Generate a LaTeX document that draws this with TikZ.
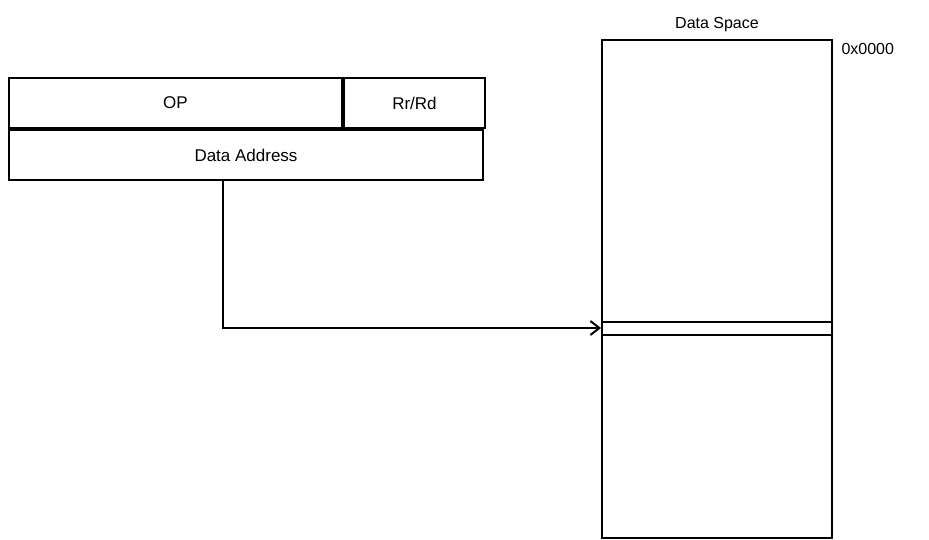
\documentclass[tikz,border=0pt]{standalone}
\usepackage{fontspec}
\setmainfont{Liberation Sans}
\usetikzlibrary{positioning}
\tikzset{
field/.style={draw, line width=2pt, minimum height=50pt, inner sep=0pt, font=\fontsize{17}{20}\selectfont},
memory/.style={draw, line width=2pt, minimum width=230pt, minimum height=498pt, inner sep=0pt},
label/.style={font=\fontsize{16}{19}\selectfont},
pointer/.style={line width=2pt, -{Straight Barb[length=9pt,width=14pt]}},
}
\usetikzlibrary{arrows.meta}
\begin{document}
\begin{tikzpicture}[x=1pt, y=-1pt]
	\useasboundingbox (0,0) rectangle (929,540);
	% Instruction
	\node[field, minimum width=333pt, anchor=north west] (op) at (8,77) {OP};
	\node[field, minimum width=141pt, right=0pt of op] (reg) {Rr/Rd};
	\node[field, minimum width=474pt, anchor=north west] (addr) at (op.south west) {Data Address};

	% Data space
	\node[memory, anchor=north west] (data) at (601,39) {};
	\node[label, above=4pt of data] {Data Space};
	\node[label, anchor=north west] at (838,40) {0x0000};
	\draw[line width=2pt] (601,322) -- (831,322) (601,335) -- (831,335);
	\coordinate (cell) at (601,328);

	% Pointer
	\draw[pointer] (addr.south -| 223,0) |- (cell);
\end{tikzpicture}
\end{document}
